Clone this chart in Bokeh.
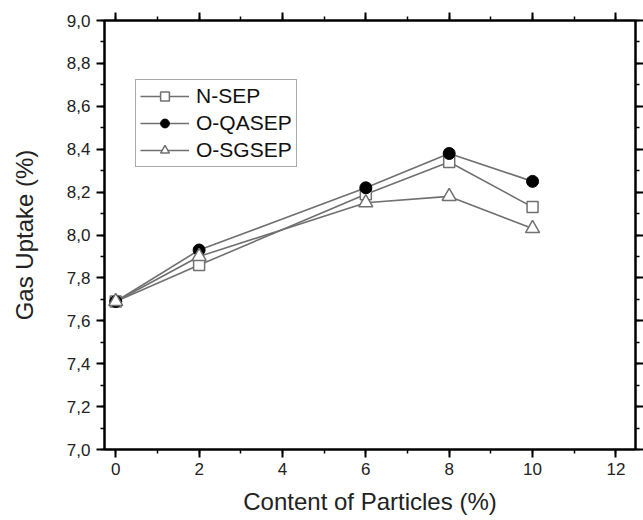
from bokeh.plotting import figure
from bokeh.models import LinearAxis, Range1d, CustomJSTickFormatter, Legend, LegendItem, FixedTicker
from bokeh.embed import file_html
from bokeh.resources import INLINE

content = [0, 2, 6, 8, 10]
n_sep = [7.69, 7.86, 8.19, 8.34, 8.13]
o_qasep = [7.69, 7.93, 8.22, 8.38, 8.25]
o_sgsep = [7.69, 7.90, 8.15, 8.18, 8.03]

x_ticks = [0, 2, 4, 6, 8, 10, 12]
y_ticks = [7.0, 7.2, 7.4, 7.6, 7.8, 8.0, 8.2, 8.4, 8.6, 8.8, 9.0]
x_minor = list(range(-1, 14))
y_minor = [round(7.0 + 0.1 * i, 1) for i in range(21)]

FONT = "Liberation Sans"
GRAY = "#707070"

p = figure(width=643, height=520, output_backend="svg", toolbar_location=None,
           x_range=Range1d(-0.27, 12.47), y_range=Range1d(7.0, 9.0),
           min_border_left=104, min_border_right=6, min_border_top=20, min_border_bottom=71,
           x_axis_label="Content of Particles (%)", y_axis_label="Gas Uptake (%)")
p.grid.visible = False
p.outline_line_color = "black"
p.outline_line_width = 2

fmt = CustomJSTickFormatter(code="return tick.toFixed(1).replace('.', ',');")

def style_axis(ax, labels=True):
    ax.axis_line_width = 2
    ax.axis_line_color = "black"
    ax.major_tick_line_width = 2
    ax.minor_tick_line_width = 1.5
    ax.major_tick_out = 8
    ax.major_tick_in = 0
    ax.minor_tick_out = 4
    ax.minor_tick_in = 0
    ax.major_label_text_font = FONT
    ax.major_label_text_font_size = "17px"
    ax.major_label_text_color = "#222222"
    ax.axis_label_text_font = FONT
    ax.axis_label_text_font_size = "24px"
    ax.axis_label_text_font_style = "normal"
    ax.axis_label_text_color = "#222222"
    if not labels:
        ax.major_label_text_alpha = 0
        ax.major_label_text_font_size = "1px"
        ax.major_label_standoff = 0

p.xaxis.ticker = FixedTicker(ticks=x_ticks, minor_ticks=x_minor)
p.yaxis.ticker = FixedTicker(ticks=y_ticks, minor_ticks=y_minor)
p.yaxis.formatter = fmt
style_axis(p.xaxis[0])
style_axis(p.yaxis[0])
p.xaxis.major_label_standoff = 5
p.xaxis.axis_label_standoff = 10
p.yaxis.major_label_standoff = 6
p.yaxis.axis_label_standoff = 26

top = LinearAxis(ticker=FixedTicker(ticks=x_ticks, minor_ticks=x_minor))
style_axis(top, labels=False)
right = LinearAxis(ticker=FixedTicker(ticks=y_ticks, minor_ticks=y_minor))
style_axis(right, labels=False)
p.add_layout(top, "above")
p.add_layout(right, "right")

# legend proxies (smaller markers), hidden beneath the first data markers
lg1 = p.scatter(content[:1], n_sep[:1], marker="square", size=8, fill_color="white", line_color=GRAY, line_width=1.5)
lg2 = p.scatter(content[:1], o_qasep[:1], marker="circle", size=9, fill_color="black", line_color="black")
lg3 = p.scatter(content[:1], o_sgsep[:1], marker="triangle", size=12, fill_color="white", line_color=GRAY, line_width=1.5)

l1 = p.line(content, n_sep, line_color=GRAY, line_width=1.6)
l2 = p.line(content, o_qasep, line_color=GRAY, line_width=1.6)
l3 = p.line(content, o_sgsep, line_color=GRAY, line_width=1.6)
m1 = p.scatter(content, n_sep, marker="square", size=11, fill_color="white", line_color=GRAY, line_width=1.5)
m2 = p.scatter(content, o_qasep, marker="circle", size=12, fill_color="black", line_color="black")
m3 = p.scatter(content, o_sgsep, marker="triangle", size=14, fill_color="white", line_color=GRAY, line_width=1.5)

legend = Legend(items=[
    LegendItem(label="N-SEP", renderers=[l1, lg1]),
    LegendItem(label="O-QASEP", renderers=[l2, lg2]),
    LegendItem(label="O-SGSEP", renderers=[l3, lg3]),
], location=(31, 282))
legend.label_text_font = FONT
legend.label_text_font_size = "21px"
legend.label_text_color = "#111111"
legend.glyph_width = 49
legend.glyph_height = 22
legend.spacing = 3
legend.padding = 4
legend.margin = 0
legend.label_standoff = 7
legend.label_height = 22
legend.border_line_color = "#555555"
legend.border_line_width = 1.5
legend.background_fill_alpha = 1
p.add_layout(legend)

open("out.html", "w").write(file_html(p, INLINE))
